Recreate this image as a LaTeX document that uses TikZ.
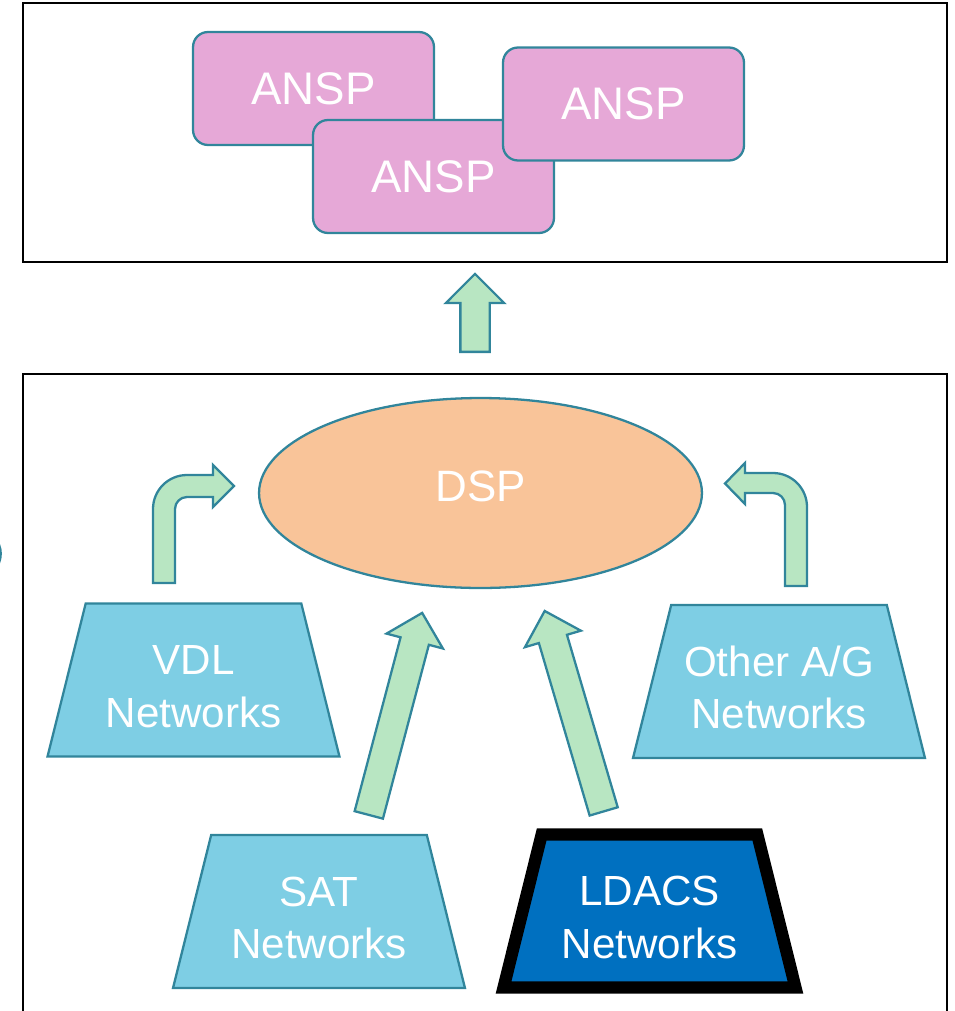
\documentclass[tikz,border=0pt]{standalone}
\usepackage{fontspec}
\setmainfont{Liberation Sans}
\usetikzlibrary{shapes.geometric,shapes.arrows}
\definecolor{cteal}{RGB}{49,133,155}
\definecolor{cpink}{RGB}{230,168,215}
\definecolor{cpeach}{RGB}{249,196,153}
\definecolor{csky}{RGB}{126,206,228}
\definecolor{cmint}{RGB}{184,230,194}
\definecolor{cblue}{RGB}{0,112,192}

\begin{document}
\begin{tikzpicture}[x=0.02cm,y=-0.02cm,
  frame node/.style={rectangle,draw=black,line width=1.2pt},
  ansp node/.style={rectangle,rounded corners=0.3cm,draw=cteal,fill=cpink,line width=1.3pt,
    minimum width=4.82cm,minimum height=2.26cm,text=white,font=\fontsize{26}{30}\selectfont},
  net node/.style={trapezium,trapezium left angle=76,trapezium right angle=76,trapezium stretches body=true,
    draw=cteal,fill=csky,line width=1.3pt,minimum width=5.84cm,inner xsep=0pt,inner ysep=16.45pt,
    align=center,text=white,font=\fontsize{24}{30}\selectfont},
  flow arrow/.style={single arrow,draw=cteal,fill=cmint,line width=1.3pt,anchor=tail,
    inner xsep=0pt,inner ysep=0.27cm,single arrow head extend=0.29cm},
  bent arrow/.style={draw=cteal,fill=cmint,line width=1.3pt}]
  \useasboundingbox (0,0) rectangle (955,1011);

  % frames
  \node[frame node,minimum width=18.48cm,minimum height=5.18cm] (top) at (485,132.5) {};
  \node[frame node,minimum width=18.48cm,minimum height=13.2cm] (bottom) at (485,704) {};
  \draw[cteal,line width=1.3pt] (-6,538) .. controls (3,545) and (3,562) .. (-6,570);

  % ANSPs
  \node[ansp node] (ansp1) at (313.5,88.5) {ANSP};
  \node[ansp node] (ansp2) at (433.5,176.5) {ANSP};
  \node[ansp node] (ansp3) at (623.5,104) {ANSP};

  \node[flow arrow,minimum height=1.56cm,rotate=90] (up) at (475,353) {};

  % DSP
  \node[ellipse,draw=cteal,fill=cpeach,line width=1.3pt,minimum width=8.86cm,minimum height=3.8cm,
    text=white,font=\fontsize{25}{30}\selectfont] (dsp) at (480.5,493) {DSP\rule[-8pt]{0pt}{8pt}};

  \path[bent arrow] (153,583) -- (153,509) .. controls (153,490.2) and (168.2,475) .. (187,475)
    -- (213,475) -- (213,465) -- (234,486) -- (213,507) -- (213,497) -- (187,497)
    .. controls (180.4,497) and (175,502.4) .. (175,509) -- (175,583) -- cycle;
  \path[bent arrow] (807,586) -- (807,507) .. controls (807,488.2) and (791.8,473) .. (773,473)
    -- (745,473) -- (745,463) -- (725,483.5) -- (745,504) -- (745,493) -- (773,493)
    .. controls (779.6,493) and (785,498.4) .. (785,505) -- (785,586) -- cycle;

  % networks
  \node[net node] (vdl) at (193.5,680) {\rule{0pt}{24pt}VDL\\Networks};
  \node[net node] (other) at (779,681.5) {\rule{0pt}{24pt}Other A/G\\Networks};
  \node[net node] (sat) at (319,911.5) {\rule{0pt}{24pt}SAT\\Networks};
  \node[net node,draw=black,fill=cblue,line width=7pt] (ldacs) at (649.5,911) {\rule{0pt}{24pt}LDACS\\Networks};

  \node[flow arrow,minimum height=4.18cm,rotate=75.2] (satup) at (368.5,816) {};
  \node[flow arrow,minimum height=4.18cm,rotate=106.4] (ldacsup) at (604,812.5) {};
\end{tikzpicture}
\end{document}
